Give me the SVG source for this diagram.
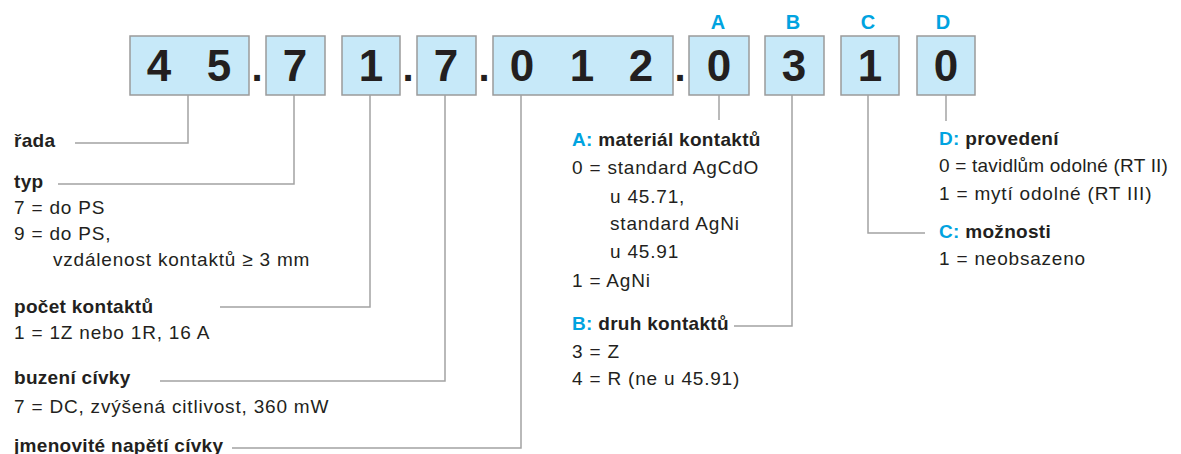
<svg xmlns="http://www.w3.org/2000/svg" width="1181" height="454" viewBox="0 0 1181 454">
<style>
.box{fill:#c7e9f9;stroke:#9a9a9a;stroke-width:1.5}
.dig{font-family:"Liberation Sans",Arial,sans-serif;font-weight:bold;font-size:44px;fill:#231f20;text-anchor:middle}
.dot{font-family:"Liberation Sans",Arial,sans-serif;font-weight:bold;font-size:40px;fill:#231f20;text-anchor:middle}
.let{font-family:"Liberation Sans",Arial,sans-serif;font-weight:bold;font-size:20px;fill:#00a3e0;text-anchor:middle}
.t{font-family:"Liberation Sans",Arial,sans-serif;font-size:19px;letter-spacing:0.8px;fill:#231f20}
.h{font-family:"Liberation Sans",Arial,sans-serif;font-size:19px;letter-spacing:0.3px;font-weight:bold;fill:#231f20}
.c{fill:#00a3e0}
.ln{fill:none;stroke:#a3a3a3;stroke-width:1.5}
</style>
<rect width="1181" height="454" fill="#ffffff"/>
<g id="code">
<g id="box-45"><rect class="box" x="130" y="36" width="119" height="59"/><text class="dig" x="159" y="81">4</text><text class="dig" x="219" y="81">5</text></g>
<text class="dot" x="257" y="81">.</text>
<g id="box-7a"><rect class="box" x="266" y="36" width="59" height="59"/><text class="dig" x="295" y="81">7</text></g>
<g id="box-1a"><rect class="box" x="342" y="36" width="58" height="59"/><text class="dig" x="371" y="81">1</text></g>
<text class="dot" x="408" y="81">.</text>
<g id="box-7b"><rect class="box" x="417" y="36" width="59" height="59"/><text class="dig" x="446" y="81">7</text></g>
<text class="dot" x="484" y="81">.</text>
<g id="box-012"><rect class="box" x="493" y="36" width="180" height="59"/><text class="dig" x="522" y="81">0</text><text class="dig" x="582" y="81">1</text><text class="dig" x="641" y="81">2</text></g>
<text class="dot" x="680" y="81">.</text>
<g id="box-A"><rect class="box" x="689" y="36" width="60" height="59"/><text class="dig" x="719" y="81">0</text><text class="let" x="718" y="29">A</text></g>
<g id="box-B"><rect class="box" x="765" y="36" width="59" height="59"/><text class="dig" x="794" y="81">3</text><text class="let" x="793" y="29">B</text></g>
<g id="box-C"><rect class="box" x="841" y="36" width="58" height="59"/><text class="dig" x="870" y="81">1</text><text class="let" x="868" y="29">C</text></g>
<g id="box-D"><rect class="box" x="917" y="36" width="58" height="59"/><text class="dig" x="946" y="81">0</text><text class="let" x="943" y="29">D</text></g>
</g>
<g id="connectors">
<polyline class="ln" points="188,95 188,143 75,143"/>
<polyline class="ln" points="294,95 294,184 58,184"/>
<polyline class="ln" points="370,95 370,307 220,307"/>
<polyline class="ln" points="445,95 445,381 160,381"/>
<polyline class="ln" points="521,95 521,448 232,448"/>
<polyline class="ln" points="719,95 719,120"/>
<polyline class="ln" points="792,95 792,326 734,326"/>
<polyline class="ln" points="868,95 868,233 925,233"/>
<polyline class="ln" points="946,95 946,121"/>
</g>
<g id="rada"><text class="h" x="14" y="147">řada</text></g>
<g id="typ">
<text class="h" x="14" y="188">typ</text>
<text class="t" x="14" y="214">7 = do PS</text>
<text class="t" x="14" y="240">9 = do PS,</text>
<text class="t" x="53" y="266">vzdálenost kontaktů ≥ 3 mm</text>
</g>
<g id="pocet">
<text class="h" x="14" y="313">počet kontaktů</text>
<text class="t" x="14" y="339">1 = 1Z nebo 1R, 16 A</text>
</g>
<g id="buzeni">
<text class="h" x="14" y="384">buzení cívky</text>
<text class="t" x="14" y="413">7 = DC, zvýšená citlivost, 360 mW</text>
</g>
<g id="napeti"><text class="h" x="14" y="452">jmenovité napětí cívky</text></g>
<g id="A">
<text class="h" x="572" y="146"><tspan class="c">A:</tspan> materiál kontaktů</text>
<text class="t" x="572" y="174">0 = standard AgCdO</text>
<text class="t" x="610" y="203">u 45.71,</text>
<text class="t" x="610" y="230">standard AgNi</text>
<text class="t" x="610" y="258">u 45.91</text>
<text class="t" x="572" y="287">1 = AgNi</text>
</g>
<g id="B">
<text class="h" x="572" y="330"><tspan class="c">B:</tspan> druh kontaktů</text>
<text class="t" x="572" y="358">3 = Z</text>
<text class="t" x="572" y="385">4 = R (ne u 45.91)</text>
</g>
<g id="C">
<text class="h" x="939" y="238"><tspan class="c">C:</tspan> možnosti</text>
<text class="t" x="939" y="265">1 = neobsazeno</text>
</g>
<g id="D">
<text class="h" x="939" y="145"><tspan class="c">D:</tspan> provedení</text>
<text class="t" x="939" y="172" style="letter-spacing:0.2px">0 = tavidlům odolné (RT II)</text>
<text class="t" x="939" y="200">1 = mytí odolné (RT III)</text>
</g>
</svg>
